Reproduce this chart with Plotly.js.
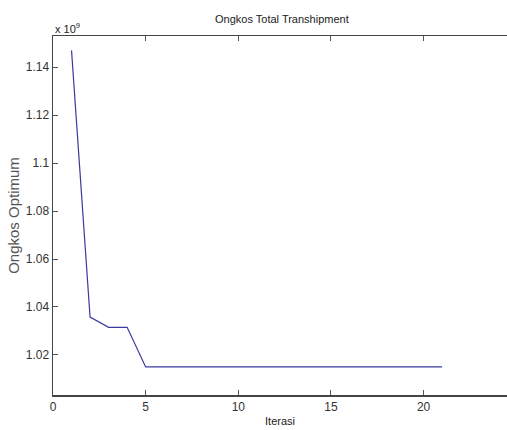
<!DOCTYPE html>
<html>
<head>
<meta charset="utf-8">
<script src="https://cdn.plot.ly/plotly-3.0.1.min.js"></script>
<style>html,body{margin:0;padding:0;background:#fff;}#chart{width:507px;height:430px;}</style>
</head>
<body>
<div id="chart"></div>
<script>
// Data (values in currency units)
const iterasi = [1,2,3,4,5,6,7,8,9,10,11,12,13,14,15,16,17,18,19,20,21];
const ongkos = [1.147e9,1.0358e9,1.0315e9,1.0315e9,1.015e9,1.015e9,1.015e9,1.015e9,1.015e9,1.015e9,1.015e9,1.015e9,1.015e9,1.015e9,1.015e9,1.015e9,1.015e9,1.015e9,1.015e9,1.015e9,1.015e9];
const xTicks = [0,5,10,15,20];
const yTickVals = [1.02e9,1.04e9,1.06e9,1.08e9,1.1e9,1.12e9,1.14e9];
const yTickText = ['1.02','1.04','1.06','1.08','1.1','1.12','1.14'];

const font = 'Liberation Sans, Arial, sans-serif';

const trace = {
  x: iterasi, y: ongkos, type: 'scatter', mode: 'lines',
  line: {color: '#3a3a9e', width: 1.2}, hoverinfo: 'skip'
};

const layout = {
  width: 507, height: 430,
  margin: {l: 53, r: 0, t: 36, b: 35},
  paper_bgcolor: '#fff', plot_bgcolor: '#fff',
  showlegend: false,
  title: {text: 'Ongkos Total Transhipment', font: {family: font, size: 11, color: '#222'},
          x: 0.556, xanchor: 'center', xref: 'container', y: 0.956, yanchor: 'middle', yref: 'container'},
  xaxis: {
    range: [0, 24.5], tickvals: xTicks, ticktext: xTicks.map(String),
    ticks: 'inside', ticklen: 5, tickcolor: '#555', tickwidth: 1,
    showline: true, linecolor: '#444', linewidth: 1.5, mirror: 'ticks',
    showgrid: false, zeroline: false,
    tickfont: {family: font, size: 12, color: '#333'},
    title: {text: 'Iterasi', font: {family: font, size: 11, color: '#222'}, standoff: 4}
  },
  yaxis: {
    range: [1.0033e9, 1.153e9], tickvals: yTickVals, ticktext: yTickText,
    ticks: 'inside', ticklen: 5, tickcolor: '#555', tickwidth: 1,
    showline: true, linecolor: '#444', linewidth: 1.5, mirror: false,
    showgrid: false, zeroline: false,
    tickfont: {family: font, size: 12, color: '#333'},
    title: {text: 'Ongkos Optimum', font: {family: font, size: 15, color: '#555'}, standoff: 2}
  },
  annotations: [{
    text: 'x 10<sup>9</sup>', xref: 'paper', yref: 'paper', x: 0, y: 1, xanchor: 'left', yanchor: 'bottom',
    yshift: -1, showarrow: false, font: {family: font, size: 11, color: '#222'}
  }]
};

Plotly.newPlot('chart', [trace], layout, {displayModeBar: false, staticPlot: true});
</script>
</body>
</html>
